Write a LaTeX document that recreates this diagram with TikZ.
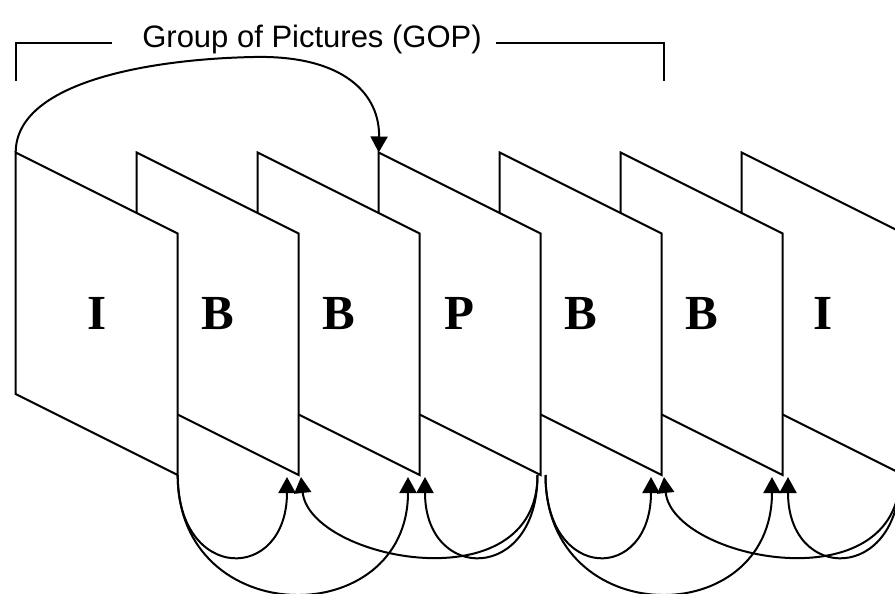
\documentclass[tikz,border=0pt]{standalone}
\usepackage{fontspec}
\setmainfont{Liberation Serif}
\newfontfamily\titlesans{Liberation Sans}
\usetikzlibrary{arrows.meta}
\begin{document}
\begin{tikzpicture}[x=1pt,y=-1pt,
  frame/.style={draw, fill=white, line width=2pt, line join=miter},
  link/.style={draw, line width=2pt, -{Triangle[length=16pt,width=17pt]}},
  letter/.style={anchor=base, inner sep=0pt, font=\fontsize{49}{49}\selectfont\bfseries},
  title/.style={anchor=base, inner sep=0pt, font=\titlesans\fontsize{31}{31}\selectfont},
  bracket/.style={draw, line width=2pt}]
\useasboundingbox (0,0) rectangle (895,594);
\begin{scope}
\clip (0,0) rectangle (895,594);

% picture frames, back to front so each one hides the next
\foreach \i/\t in {6/I,5/B,4/B,3/P,2/B,1/B,0/I} {
  \pgfmathsetmacro\L{15.7+121*\i}
  \draw[frame] (\L,152.5) -- ++(162,81) -- ++(0,241.5) -- ++(-162,-81) -- cycle;
  \node[letter] (pic\i) at (\L+81,329) {\t};
}

% GOP bracket and title
\node[title] (gop) at (312,47.5) {Group of Pictures (GOP)};
\coordinate (bl0) at (15.6,80.7);
\coordinate (bl1) at (15.6,43);
\coordinate (bl2) at (111.6,43);
\coordinate (br0) at (495.5,43);
\coordinate (br1) at (663.8,43);
\coordinate (br2) at (663.8,80.7);
\draw[bracket] (bl0) -- (bl1) -- (bl2);
\draw[bracket] (br0) -- (br1) -- (br2);

% forward prediction I -> P over the top
\coordinate (itop) at (15.7,152.5);
\coordinate (ptop) at (378.7,152.5);
\coordinate (peak) at (254,57);
\draw[link] (itop) .. controls (15.7,82) and (150,59) .. (peak)
  .. controls (345,55) and (380,95) .. (ptop);

% reference points below the frames
\coordinate (iout) at (177.7,475);
\coordinate (pin)  at (537.5,475);
\coordinate (pout) at (545.5,475);
\coordinate (jin)  at (900,475);
\coordinate (b1f) at (287,477);
\coordinate (b1b) at (301,477);
\coordinate (b2f) at (408,477);
\coordinate (b2b) at (425,477);
\coordinate (b4f) at (651,477);
\coordinate (b4b) at (664,477);
\coordinate (b5f) at (772,477);
\coordinate (b5b) at (788,477);

% bidirectional prediction of the B pictures
\draw[link] (iout) .. controls +(0,108) and +(0,106) .. (b1f);
\draw[link] (iout) .. controls +(0,157) and +(0,155) .. (b2f);
\draw[link] (pin)  .. controls +(0,130) and +(9,83)  .. (b1b);
\draw[link] (pin)  .. controls +(0,108) and +(0,106) .. (b2b);
\draw[link] (pout) .. controls +(0,108) and +(0,106) .. (b4f);
\draw[link] (pout) .. controls +(0,157) and +(0,155) .. (b5f);
\draw[link] (jin)  .. controls +(0,130) and +(9,83)  .. (b4b);
\draw[link] (jin)  .. controls +(0,108) and +(0,106) .. (b5b);
\end{scope}
\end{tikzpicture}
\end{document}
